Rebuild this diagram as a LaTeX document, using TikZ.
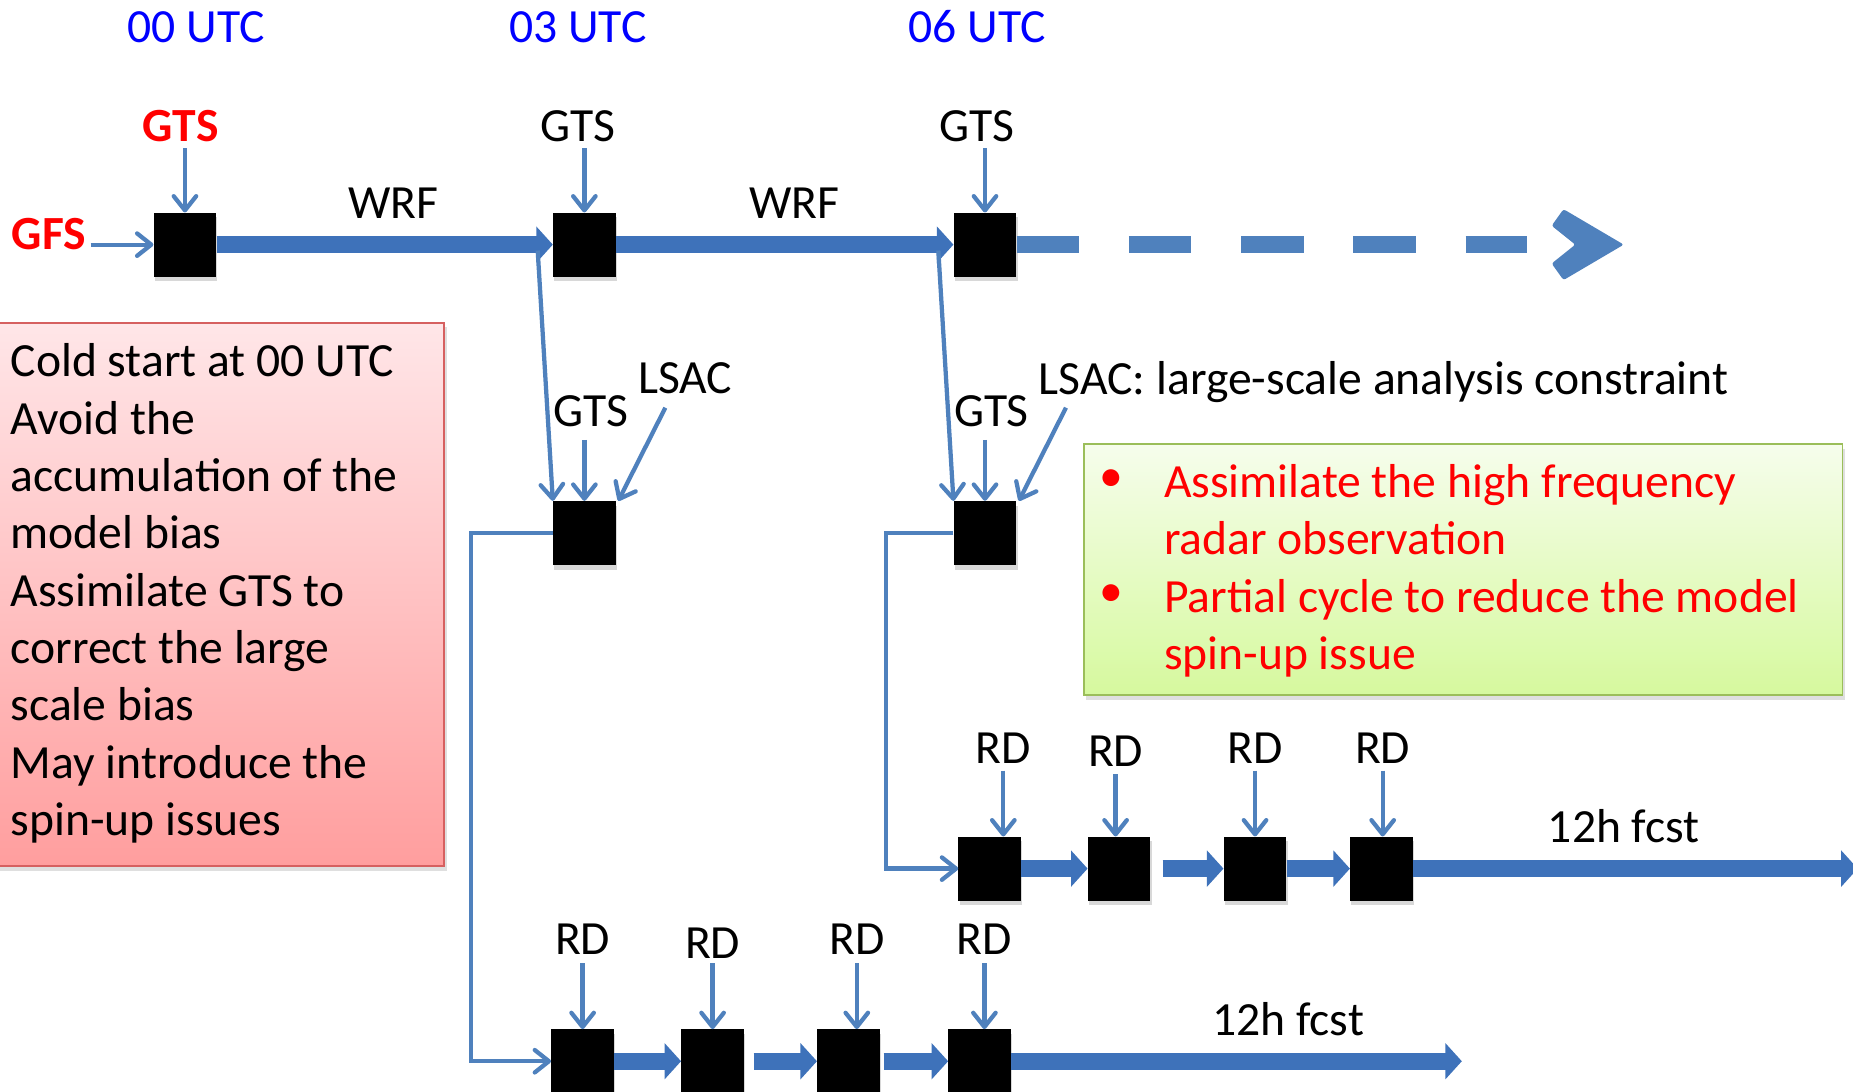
\documentclass[tikz,border=0pt]{standalone}
\usepackage{fontspec}
\setmainfont{Carlito}
\usetikzlibrary{arrows.meta,shadows}
\definecolor{thinblue}{RGB}{79,129,189}
\definecolor{thickblue}{RGB}{62,114,186}
\definecolor{utcblue}{RGB}{0,0,255}
\definecolor{redtxt}{RGB}{255,0,0}
\definecolor{redborder}{RGB}{214,96,96}
\definecolor{redtop}{RGB}{255,230,232}
\definecolor{redbot}{RGB}{255,158,158}
\definecolor{greenborder}{RGB}{155,190,90}
\definecolor{greentop}{RGB}{246,253,236}
\definecolor{greenbot}{RGB}{214,249,158}
\begin{document}
\begin{tikzpicture}[x=1pt,y=-1pt,
  lab/.style={font=\fontsize{40.3}{48.5}\selectfont, inner sep=0pt, outer sep=0pt, anchor=base},
  blk/.style={fill=black, minimum width=53pt, minimum height=54pt, inner sep=0pt,
    drop shadow={shadow xshift=1pt, shadow yshift=-4pt, opacity=0.3}},
  thinarrow/.style={draw=thinblue, line width=3.6pt, -{Straight Barb[width=19pt,length=12pt,round]}},
  thickarrow/.style={draw=thickblue, line width=14pt, -{Triangle[width=30pt,length=14pt]}},
]
\clip (0,0) rectangle (1568,924);
\fill[white] (0,0) rectangle (1568,924);

% coloured boxes
\node[draw=redborder, line width=1.5pt, top color=redtop, bottom color=redbot,
  minimum width=383pt, minimum height=460pt, inner sep=0pt,
  drop shadow={shadow xshift=2pt, shadow yshift=-4pt, opacity=0.25}] (rbox) at (184.5,503) {};
\node[draw=greenborder, line width=1.5pt, top color=greentop, bottom color=greenbot,
  minimum width=642pt, minimum height=212pt, inner sep=0pt,
  drop shadow={shadow xshift=2pt, shadow yshift=-4pt, opacity=0.25}] (gbox) at (1238,482) {};

\node[lab, anchor=north west, align=left] (rtext) at (9,287)
  {\rule{0pt}{32pt}Cold start at 00 UTC\\Avoid the\\accumulation of the\\model bias\\Assimilate GTS to\\correct the large\\scale bias\\May introduce the\\spin-up issues};

\node[lab, anchor=center, text=redtxt] (bul1) at (940,407) {•};
\node[lab, anchor=center, text=redtxt] (bul2) at (940,504) {•};
\node[lab, anchor=north west, align=left, text=redtxt] (gtext) at (985,389)
  {\rule{0pt}{32pt}Assimilate the high frequency\\radar observation\\Partial cycle to reduce the model\\spin-up issue};

% time labels
\node[lab, text=utcblue] (u0) at (166,36) {00 UTC};
\node[lab, text=utcblue] (u3) at (489,36) {03 UTC};
\node[lab, text=utcblue] (u6) at (827,36) {06 UTC};

% row 1
\node[blk] (b1) at (156.5,207) {};
\node[blk] (b2) at (494.5,207) {};
\node[blk] (b3) at (833.5,207) {};

\node[lab, text=redtxt, font=\fontsize{40.3}{48.5}\selectfont\bfseries] (gts1) at (153,120) {GTS};
\node[lab] (gts2) at (489,120) {GTS};
\node[lab] (gts3) at (827,120) {GTS};
\node[lab, anchor=base west, text=redtxt, font=\fontsize{40.3}{48.5}\selectfont\bfseries] (gfs) at (10,211) {GFS};
\node[lab] (wrf1) at (333,185) {WRF};
\node[lab] (wrf2) at (672,185) {WRF};

\draw[thinarrow, shorten <=5pt] (gts1.south -| b1.north) -- (b1.north);
\draw[thinarrow, shorten <=5pt] (gts2.south -| b2.north) -- (b2.north);
\draw[thinarrow, shorten <=5pt] (gts3.south -| b3.north) -- (b3.north);
\draw[thinarrow, shorten <=4pt] (gfs.east |- b1.west) -- (b1.west);

\draw[thickarrow] (b1.east) -- (b2.west);
\draw[thickarrow] (b2.east) -- (b3.west);

\draw[draw=thinblue, line width=14pt, dash pattern=on 53pt off 42pt] (b3.east) -- (1292,207);
\fill[thinblue, rounded corners=2pt] (1313,191) -- (1323,177) -- (1374,207) -- (1323,237) -- (1313,223) -- (1333,207) -- cycle;

% row 2
\node[blk] (b2b) at (494.5,451) {};
\node[blk] (b3b) at (833.5,451) {};
\node[lab] (gts2b) at (500,361) {GTS};
\node[lab] (gts3b) at (839,361) {GTS};
\node[lab, anchor=base west] (lsac2) at (540,333) {LSAC};
\node[lab, anchor=base west] (lsac3) at (879,334) {LSAC: large-scale analysis constraint};

\coordinate (s2) at (455,212);
\coordinate (s3) at (794,212);
\coordinate (l2) at (563,345);
\coordinate (l3) at (902,345);
\draw[thinarrow] (s2) -- (b2b.north west);
\draw[thinarrow] (s3) -- (b3b.north west);
\draw[thinarrow, shorten <=11pt] (gts2b.south -| b2b.north) -- (b2b.north);
\draw[thinarrow, shorten <=11pt] (gts3b.south -| b3b.north) -- (b3b.north);
\draw[thinarrow] (l2) -- ([xshift=2pt]b2b.north east);
\draw[thinarrow] (l3) -- ([xshift=2pt]b3b.north east);

% upper RD row (from 06 UTC)
\node[blk] (c1) at (837.5,735) {};
\node[blk] (c2) at (947,735) {};
\node[blk] (c3) at (1062,735) {};
\node[blk] (c4) at (1169,735) {};
\node[lab] (rc1) at (849,646) {RD};
\node[lab] (rc2) at (944,649) {RD};
\node[lab] (rc3) at (1062,646) {RD};
\node[lab] (rc4) at (1170,646) {RD};
\node[lab] (f1) at (1374,713) {12h fcst};
\coordinate (e1) at (1572,735);

\draw[thinarrow, shorten <=6pt] (rc1.south) -- (rc1.south |- c1.north);
\draw[thinarrow, shorten <=6pt] (rc2.south) -- (rc2.south |- c2.north);
\draw[thinarrow, shorten <=6pt] (rc3.south) -- (rc3.south |- c3.north);
\draw[thinarrow, shorten <=6pt] (rc4.south) -- (rc4.south |- c4.north);

\draw[thickarrow] (c1.east) -- (c2.west);
\draw[thickarrow, shorten <=10pt] (c2.east) -- (c3.west);
\draw[thickarrow] (c3.east) -- (c4.west);
\draw[thickarrow] (c4.east) -- (e1);

\draw[thinarrow] (b3b.west) -- ++(-57,0) |- (c1.west);

% lower RD row (from 03 UTC)
\node[blk] (d1) at (493,898) {};
\node[blk] (d2) at (603,898) {};
\node[blk] (d3) at (718,898) {};
\node[blk] (d4) at (829,898) {};
\node[lab] (rd1) at (493,808) {RD};
\node[lab] (rd2) at (603,811) {RD};
\node[lab] (rd3) at (725,808) {RD};
\node[lab] (rd4) at (833,808) {RD};
\node[lab] (f2) at (1090,876) {12h fcst};
\coordinate (e2) at (1237,898);

\draw[thinarrow, shorten <=7pt] (rd1.south) -- (rd1.south |- d1.north);
\draw[thinarrow, shorten <=4pt] (rd2.south) -- (rd2.south |- d2.north);
\draw[thinarrow, shorten <=7pt] (rd3.south) -- (rd3.south |- d3.north);
\draw[thinarrow, shorten <=7pt] (rd4.south) -- (rd4.south |- d4.north);

\draw[thickarrow] (d1.east) -- (d2.west);
\draw[thickarrow, shorten <=8pt] (d2.east) -- (d3.west);
\draw[thickarrow, shorten <=3pt] (d3.east) -- (d4.west);
\draw[thickarrow] (d4.east) -- (e2);

\draw[thinarrow] (b2b.west) -- ++(-69,0) |- (d1.west);
\end{tikzpicture}
\end{document}
